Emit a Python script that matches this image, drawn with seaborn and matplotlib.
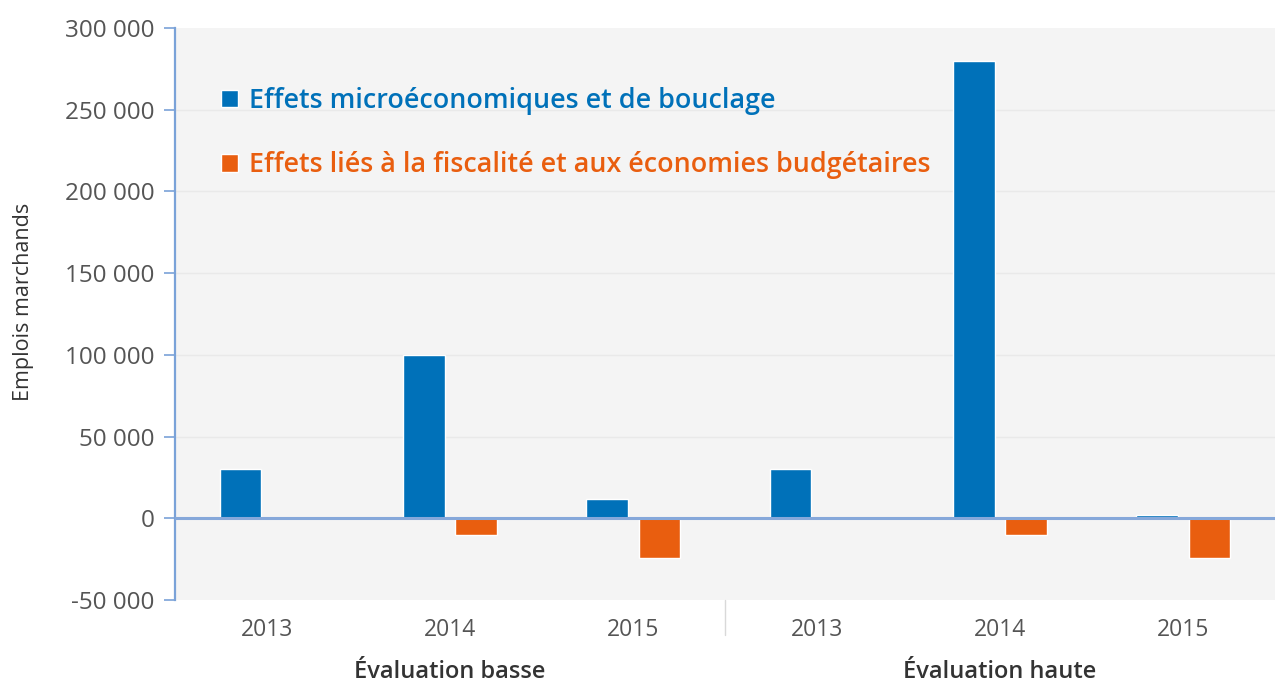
import matplotlib
matplotlib.use("Agg")
import matplotlib.pyplot as plt
import matplotlib.transforms as mtransforms
import seaborn as sns
import pandas as pd

# ---- data ----
groups = ["Évaluation basse", "Évaluation haute"]
years = ["2013", "2014", "2015"]
series_names = ["Effets microéconomiques et de bouclage",
                "Effets liés à la fiscalité et aux économies budgétaires"]
micro = [30000, 100000, 12000, 30000, 280000, 2000]
fiscal = [0, -10000, -24000, 0, -10000, -24000]
yticks = [-50000, 0, 50000, 100000, 150000, 200000, 250000, 300000]
ytick_labels = ["-50 000", "0", "50 000", "100 000", "150 000", "200 000", "250 000", "300 000"]

blue = "#0071b9"
orange = "#e95e0f"

cats = [f"{g}|{y}" for g in groups for y in years]
rows = []
for i, c in enumerate(cats):
    rows.append({"cat": c, "serie": series_names[0], "val": micro[i]})
    rows.append({"cat": c, "serie": series_names[1], "val": fiscal[i]})
df = pd.DataFrame(rows)

sns.set_theme(style="white")
plt.rcParams["font.family"] = ["Open Sans", "DejaVu Sans"]

fig = plt.figure(figsize=(12.75, 6.84), dpi=100)
ax = fig.add_axes([175/1275, 1-600/684, 1100/1275, 572/684])
ax.set_facecolor("#f4f4f4")

sns.barplot(data=df, x="cat", y="val", hue="serie", order=cats,
            hue_order=series_names, palette=[blue, orange],
            width=0.57, gap=0.2, ax=ax, saturation=1, errorbar=None)

ax.set_ylim(-50000, 300000)
ax.set_xlim(-0.5, 5.5)
ax.set_yticks(yticks)
ax.set_yticklabels(ytick_labels, fontsize=17.5, color="#555555")
ax.set_xticks(range(6))
ax.set_xticklabels(years * 2, fontsize=16.5, color="#555555")
ax.tick_params(axis="x", length=0, pad=13)
ax.tick_params(axis="y", length=8, width=1.2, color="#7aa2d8", pad=7, left=True)

for yv in yticks[2:-1]:
    ax.axhline(yv, color="#e9e9e9", lw=1, zorder=0)
ax.axhline(0, color="#86a8da", lw=2.2, zorder=3)

for s in ["top", "right", "bottom"]:
    ax.spines[s].set_visible(False)
ax.spines["left"].set_color("#7aa2d8")
ax.spines["left"].set_linewidth(1.6)

ax.set_xlabel("")
ax.set_ylabel("Emplois marchands", fontsize=15.5, color="#333333")
ax.yaxis.set_label_coords(-0.128, 0.521)

trans = mtransforms.blended_transform_factory(ax.transData, ax.transAxes)
ax.plot([2.5, 2.5], [0, -0.062], transform=trans, color="#d9d9d9", lw=1, clip_on=False)
ax.text(1, -0.125, groups[0], transform=trans, ha="center", va="center",
        fontsize=17, fontweight="semibold", color="#333333")
ax.text(4, -0.125, groups[1], transform=trans, ha="center", va="center",
        fontsize=17, fontweight="semibold", color="#333333")

leg = ax.legend(loc="upper left", bbox_to_anchor=(0.032, 0.916), frameon=False,
                handlelength=0.63, handleheight=0.63, handletextpad=0.4,
                labelspacing=1.35, fontsize=19.4, borderaxespad=0)
for t, c in zip(leg.get_texts(), [blue, orange]):
    t.set_color(c)
    t.set_fontweight("semibold")

fig.savefig("out.png", dpi=100, facecolor="white")
